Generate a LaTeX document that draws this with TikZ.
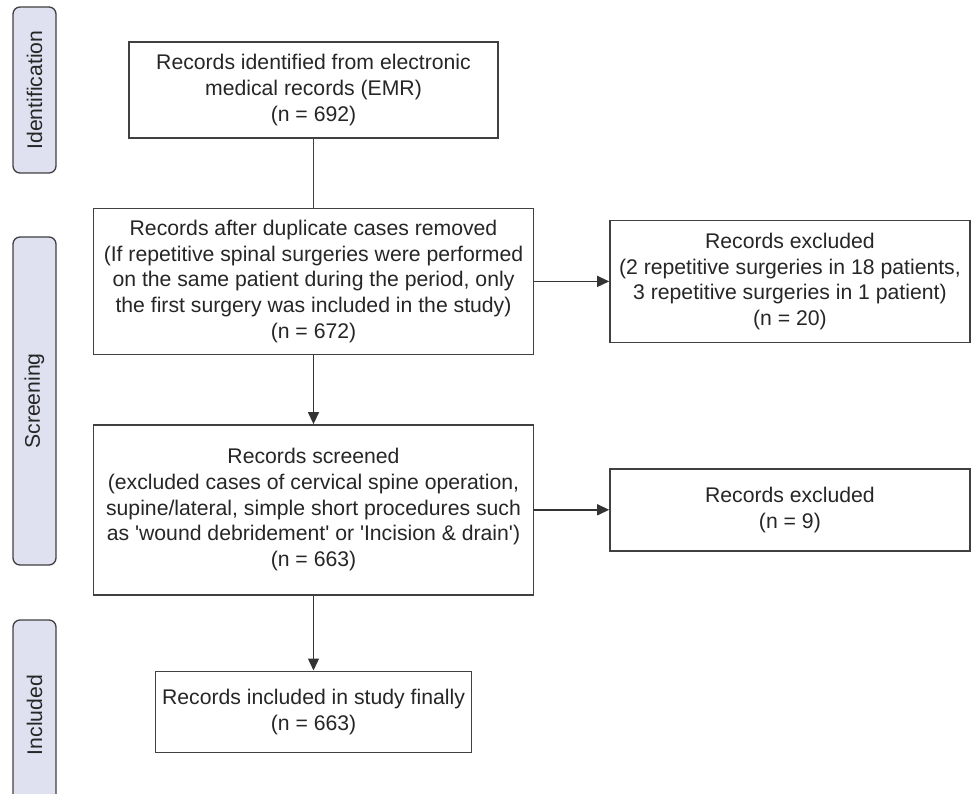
\documentclass[tikz,border=0pt]{standalone}
\usepackage{fontspec}
\setmainfont{Liberation Sans}
\usetikzlibrary{arrows.meta}
\usetikzlibrary{positioning}
\definecolor{stagefill}{HTML}{DFE0F0}
\newcommand{\straightq}{\XeTeXglyph\XeTeXcharglyph"27\relax}

\begin{document}
\begin{tikzpicture}[x=1pt, y=-1pt,
      every node/.style={font=\fontsize{21.2}{25.7}\selectfont, text=black!85},
      record/.style={rectangle, draw=black!75, line width=1.4pt, fill=white, align=center, inner sep=0pt},
      stage/.style={rectangle, rounded corners=7pt, draw=black!75, line width=1.3pt, fill=stagefill, rotate=90, minimum height=43pt, inner sep=0pt},
      arrow/.style={-{Triangle[length=12pt, width=11pt]}, line width=1.4pt, draw=black!80},
      link/.style={line width=1.4pt, draw=black!75},
      node distance=69pt
      ]

      \useasboundingbox (0,0) rectangle (972,794);
      \clip (0,0) rectangle (972,794);

      % Stages
      \node[stage, minimum width=166pt] (ident) at (34.5,90) {Identification};
      \node[stage, minimum width=328pt] (screen) at (34.5,401) {Screening};
      \node[stage, minimum width=190pt] (incl) at (34.5,715) {Included};

      % Nodes
      \node[record, minimum width=369pt, minimum height=96pt] (emr) at (313.5,90)
        {Records identified from electronic\\ medical records (EMR)\\ (n = 692)};
      \node[record, below=of emr, minimum width=440pt, minimum height=146pt] (dup)
        {Records after duplicate cases removed\\ (If repetitive spinal surgeries were performed\\ on the same patient during the period, only\\ the first surgery was included in the study)\\ (n = 672)};
      \node[record, right=75pt of dup, minimum width=360pt, minimum height=122pt] (exdup)
        {Records excluded\\ (2 repetitive surgeries in 18 patients,\\ 3 repetitive surgeries in 1 patient)\\ (n = 20)};

      \node[record, below=of dup, minimum width=440pt, minimum height=170pt] (screened)
        {Records screened\\ (excluded cases of cervical spine operation,\\ supine/lateral, simple short procedures such\\ as \straightq wound debridement\straightq{} or \straightq Incision \& drain\straightq)\\ (n = 663)};
      \node[record, right=75pt of screened, minimum width=360pt, minimum height=82pt] (exscr)
        {Records excluded\\ (n = 9)};

      \node[record, below=75pt of screened, minimum width=316pt, minimum height=81pt] (final)
        {Records included in study finally\\ (n = 663)};

      % Arrows
      \draw[link] (emr) -- (dup);
      \draw[arrow] (dup) -- (exdup);
      \draw[arrow] (dup) -- (screened);
      \draw[arrow] (screened) -- (exscr);
      \draw[arrow] (screened) -- (final);

    \end{tikzpicture}
\end{document}
